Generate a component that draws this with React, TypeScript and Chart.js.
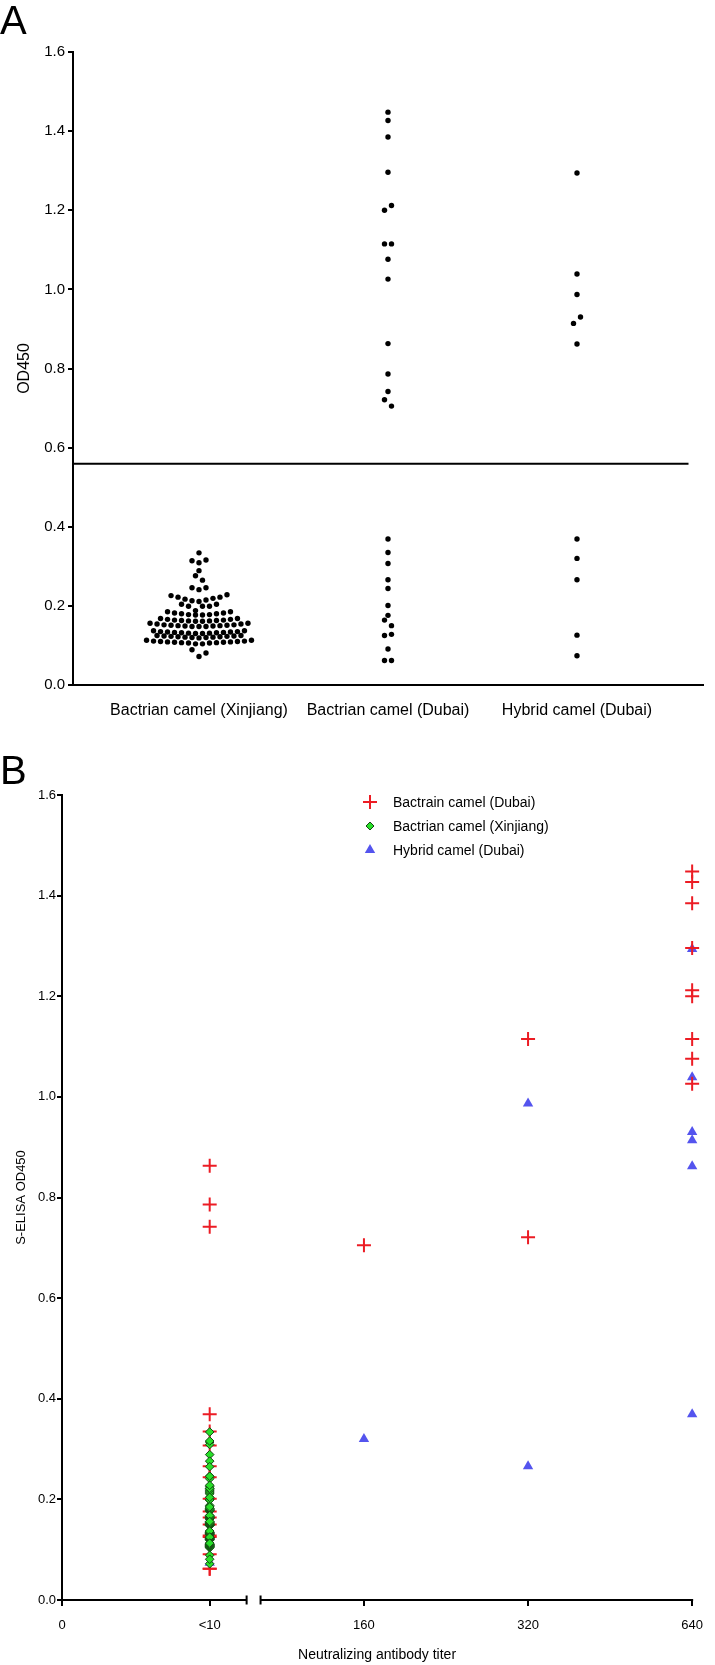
import React, { useEffect, useRef } from 'react';
import { Chart, registerables } from 'chart.js';

Chart.register(...registerables);

const FONT = '"Liberation Sans", Arial, Helvetica, sans-serif';

// ---------------- Panel A: OD450 by group (beeswarm) ----------------
const groupLabels = ['Bactrian camel (Xinjiang)', 'Bactrian camel (Dubai)', 'Hybrid camel (Dubai)'];
const CUTOFF = 0.559;
const CUTOFF_LINE_X = [-2 / 3, 2.59];

// Each inner array is one horizontal row of the swarm, listed left to right
const xinjiangRows: number[][] = [
  [0.334],
  [0.314, 0.309, 0.316],
  [0.289],
  [0.276, 0.265],
  [0.246, 0.241, 0.246],
  [0.226, 0.222, 0.217, 0.213, 0.211, 0.215, 0.219, 0.222, 0.228],
  [0.204, 0.199, 0.188, 0.199, 0.199, 0.204],
  [0.185, 0.182, 0.18, 0.178, 0.177, 0.177, 0.178, 0.18, 0.182, 0.185],
  [0.168, 0.166, 0.164, 0.163, 0.162, 0.161, 0.161, 0.162, 0.163, 0.164, 0.166, 0.168],
  [0.156, 0.154, 0.152, 0.151, 0.15, 0.149, 0.148, 0.148, 0.148, 0.149, 0.15, 0.151, 0.152, 0.154, 0.156],
  [0.137, 0.135, 0.134, 0.133, 0.132, 0.131, 0.13, 0.13, 0.131, 0.132, 0.133, 0.134, 0.135, 0.137],
  [0.125, 0.124, 0.123, 0.122, 0.121, 0.12, 0.119, 0.12, 0.121, 0.122, 0.123, 0.124, 0.125],
  [0.113, 0.111, 0.11, 0.109, 0.108, 0.107, 0.106, 0.104, 0.104, 0.106, 0.107, 0.108, 0.109, 0.11, 0.111, 0.113],
  [0.089, 0.072, 0.081],
];
const dubaiRows: number[][] = [
  [1.448], [1.427], [1.385], [1.296], [1.2, 1.212], [1.115, 1.115], [1.076], [1.026],
  [0.863], [0.786], [0.742], [0.721, 0.705],
  [0.369], [0.335], [0.307], [0.266], [0.244], [0.201], [0.176], [0.164, 0.15], [0.125, 0.128], [0.091], [0.062, 0.062],
];
const hybridRows: number[][] = [
  [1.294], [1.039], [0.987], [0.914, 0.93], [0.862],
  [0.369], [0.32], [0.266], [0.126], [0.074],
];

// ---------------- Panel B: OD450 vs neutralizing titer ----------------
const titerLabels = ['0', '<10', '160', '320', '640'];
const dubaiTiters = [
  '<10', '<10', '<10', '<10', '<10', '<10', '<10', '<10', '<10', '<10', '<10', '<10', '<10', '<10', '<10', '<10', '<10',
  '160', '320', '320',
  '640', '640', '640', '640', '640', '640', '640', '640', '640',
];
const dubaiOD = [
  0.863, 0.786, 0.742, 0.369, 0.335, 0.307, 0.266, 0.244, 0.201, 0.176, 0.164, 0.15, 0.128, 0.125, 0.091, 0.062, 0.062,
  0.705, 1.115, 0.721,
  1.448, 1.427, 1.385, 1.296, 1.212, 1.2, 1.115, 1.076, 1.026,
];
const hybridTiters = ['<10', '<10', '160', '320', '320', '640', '640', '640', '640', '640', '640'];
const hybridOD = [0.126, 0.074, 0.32, 0.987, 0.266, 1.294, 1.039, 0.93, 0.914, 0.862, 0.369];
const legendLabelsB = ['Bactrain camel (Dubai)', 'Bactrian camel (Xinjiang)', 'Hybrid camel (Dubai)'];

const RED = 'rgb(236,28,36)';
const GREEN = 'rgb(40,224,40)';
const GREEN_EDGE = 'rgb(20,70,20)';
const BLUE = 'rgb(84,84,238)';

// axis layout helpers for panel B (broken axis: "<10" then log2 titers)
const LT10_POS = 0.9;
const FIRST_TITER = 160;
const FIRST_POS = 1.84;
const titerPos = (t: string) =>
  t === '0' ? 0 : t === '<10' ? LT10_POS : FIRST_POS + Math.log2(Number(t) / FIRST_TITER);
const BREAK_B = [1.125, 1.21];

const DOT_STEP = 0.037;
function swarm(rows: number[][], center: number) {
  const pts: { x: number; y: number }[] = [];
  rows.forEach((row) =>
    row.forEach((v, i) => pts.push({ x: center + (i - (row.length - 1) / 2) * DOT_STEP, y: v }))
  );
  return pts;
}

const axisBreakPlugin = {
  id: 'axisBreak',
  beforeDatasetsDraw(chart: any) {
    const xs = chart.scales.x;
    const ctx = chart.ctx;
    const y0 = xs.top;
    const bl = xs.getPixelForValue(BREAK_B[0]);
    const br = xs.getPixelForValue(BREAK_B[1]);
    ctx.save();
    ctx.strokeStyle = '#000';
    ctx.lineWidth = 2;
    ctx.beginPath();
    ctx.moveTo(xs.left - 1, y0);
    ctx.lineTo(bl, y0);
    ctx.moveTo(br, y0);
    ctx.lineTo(xs.right + 1, y0);
    ctx.moveTo(bl, y0 - 4.5);
    ctx.lineTo(bl, y0 + 4.5);
    ctx.moveTo(br, y0 - 4.5);
    ctx.lineTo(br, y0 + 4.5);
    ctx.stroke();
    ctx.restore();
  },
};

const legendBPlugin = {
  id: 'legendB',
  afterDraw(chart: any) {
    const ctx = chart.ctx;
    const ca = chart.chartArea;
    const lx = ca.left + 308;
    const ly = ca.top + 7;
    const dy = 24;
    ctx.save();
    // cross
    let y = ly;
    ctx.strokeStyle = RED;
    ctx.lineWidth = 2;
    ctx.beginPath();
    ctx.moveTo(lx - 7, y);
    ctx.lineTo(lx + 7, y);
    ctx.moveTo(lx, y - 7);
    ctx.lineTo(lx, y + 7);
    ctx.stroke();
    // diamond
    y = ly + dy;
    ctx.beginPath();
    ctx.moveTo(lx - 4, y);
    ctx.lineTo(lx, y - 4);
    ctx.lineTo(lx + 4, y);
    ctx.lineTo(lx, y + 4);
    ctx.closePath();
    ctx.fillStyle = GREEN;
    ctx.fill();
    ctx.strokeStyle = GREEN_EDGE;
    ctx.lineWidth = 1;
    ctx.stroke();
    // triangle
    y = ly + 2 * dy;
    ctx.beginPath();
    ctx.moveTo(lx, y - 6);
    ctx.lineTo(lx + 5.2, y + 3);
    ctx.lineTo(lx - 5.2, y + 3);
    ctx.closePath();
    ctx.fillStyle = BLUE;
    ctx.fill();
    // text
    ctx.fillStyle = '#000';
    ctx.font = `14px ${FONT}`;
    ctx.textAlign = 'left';
    ctx.textBaseline = 'middle';
    legendLabelsB.forEach((t, i) => ctx.fillText(t, lx + 23, ly + i * dy + 1));
    ctx.restore();
  },
};

export default function App() {
  const refA = useRef<HTMLCanvasElement>(null);
  const refB = useRef<HTMLCanvasElement>(null);

  useEffect(() => {
    Chart.defaults.font.family = FONT;
    Chart.defaults.color = '#000';

    const dotStyle = { pointRadius: 2.7, pointHoverRadius: 2.7, backgroundColor: '#000', borderWidth: 0, clip: false };
    const chartA = new Chart(refA.current as HTMLCanvasElement, {
      type: 'scatter',
      data: {
        datasets: [
          {
            type: 'line',
            label: 'cutoff',
            data: CUTOFF_LINE_X.map((x) => ({ x, y: CUTOFF })),
            borderColor: '#000',
            borderWidth: 2,
            pointRadius: 0,
            fill: false,
          } as any,
          { label: groupLabels[0], data: swarm(xinjiangRows, 0), ...dotStyle },
          { label: groupLabels[1], data: swarm(dubaiRows, 1), ...dotStyle },
          { label: groupLabels[2], data: swarm(hybridRows, 2), ...dotStyle },
        ],
      },
      options: {
        animation: false,
        responsive: false,
        layout: { padding: { top: 52, right: 12, left: 0, bottom: 0 } },
        plugins: { legend: { display: false }, tooltip: { enabled: false } },
        scales: {
          x: {
            type: 'linear',
            min: -2 / 3,
            max: 8 / 3,
            afterBuildTicks: (s: any) => {
              s.ticks = groupLabels.map((_, i) => ({ value: i }));
            },
            afterFit: (s: any) => {
              s.height = 55;
            },
            ticks: {
              callback: (_v: any, i: number) => groupLabels[i],
              font: { size: 16, family: FONT },
              color: '#000',
              padding: 16,
              maxRotation: 0,
              autoSkip: false,
            },
            grid: { display: false, drawTicks: false },
            border: { color: '#000', width: 2 },
          },
          y: {
            min: 0,
            max: 1.6,
            afterFit: (s: any) => {
              s.width = 73;
            },
            ticks: {
              stepSize: 0.2,
              callback: (v: any) => Number(v).toFixed(1),
              font: { size: 15, family: FONT },
              color: '#000',
              padding: 3,
            },
            grid: { drawOnChartArea: false, tickLength: 5, color: '#000', lineWidth: 2 },
            border: { color: '#000', width: 2 },
            title: {
              display: true,
              text: 'OD450',
              font: { size: 16, family: FONT },
              color: '#000',
              padding: { top: 15, bottom: 0 },
            },
          },
        },
      } as any,
    });

    const chartB = new Chart(refB.current as HTMLCanvasElement, {
      type: 'scatter',
      data: {
        datasets: [
          {
            label: legendLabelsB[1],
            data: xinjiangRows.flat().map((v) => ({ x: titerPos('<10'), y: v })),
            pointStyle: 'rectRot',
            pointRadius: 4.3,
            pointHoverRadius: 4.3,
            backgroundColor: GREEN,
            borderColor: GREEN_EDGE,
            borderWidth: 1,
            order: 0,
            clip: false,
          },
          {
            label: legendLabelsB[0],
            data: dubaiOD.map((v, i) => ({ x: titerPos(dubaiTiters[i]), y: v })),
            pointStyle: 'cross',
            pointRadius: 7,
            pointHoverRadius: 7,
            borderColor: RED,
            backgroundColor: RED,
            borderWidth: 2,
            order: 1,
            clip: false,
          },
          {
            label: legendLabelsB[2],
            data: hybridOD.map((v, i) => ({ x: titerPos(hybridTiters[i]), y: v })),
            pointStyle: 'triangle',
            pointRadius: 6,
            pointHoverRadius: 6,
            backgroundColor: BLUE,
            borderColor: BLUE,
            borderWidth: 0,
            order: 2,
            clip: false,
          },
        ],
      },
      options: {
        animation: false,
        responsive: false,
        layout: { padding: { top: 55, right: 11, left: 0, bottom: 0 } },
        plugins: { legend: { display: false }, tooltip: { enabled: false } },
        scales: {
          x: {
            type: 'linear',
            min: 0,
            max: titerPos('640'),
            afterBuildTicks: (s: any) => {
              s.ticks = titerLabels.map((t) => ({ value: titerPos(t) }));
            },
            afterFit: (s: any) => {
              s.height = 65;
            },
            ticks: {
              callback: (_v: any, i: number) => titerLabels[i],
              font: { size: 13, family: FONT },
              color: '#000',
              padding: 12,
              maxRotation: 0,
              autoSkip: false,
            },
            grid: { drawOnChartArea: false, tickLength: 6, color: '#000', lineWidth: 2 },
            border: { display: false },
            title: {
              display: true,
              text: 'Neutralizing antibody titer',
              font: { size: 14, family: FONT },
              color: '#000',
              padding: { top: 0, bottom: 1 },
            },
          },
          y: {
            min: 0,
            max: 1.6,
            afterFit: (s: any) => {
              s.width = 62;
            },
            ticks: {
              stepSize: 0.2,
              callback: (v: any) => Number(v).toFixed(1),
              font: { size: 13, family: FONT },
              color: '#000',
              padding: 1,
            },
            grid: { drawOnChartArea: false, tickLength: 5, color: '#000', lineWidth: 2 },
            border: { color: '#000', width: 2 },
            title: {
              display: true,
              text: 'S-ELISA OD450',
              font: { size: 13, family: FONT },
              color: '#000',
              padding: { top: 14, bottom: 0 },
            },
          },
        },
      } as any,
      plugins: [axisBreakPlugin, legendBPlugin],
    });

    return () => {
      chartA.destroy();
      chartB.destroy();
    };
  }, []);

  const letter: React.CSSProperties = {
    position: 'absolute',
    left: 0,
    fontFamily: FONT,
    fontSize: 40,
    lineHeight: '40px',
    color: '#000',
  };

  return (
    <div style={{ position: 'absolute', left: 0, top: 0, width: 715, height: 1665, background: '#fff' }}>
      <canvas ref={refA} width={715} height={740} style={{ position: 'absolute', left: 0, top: 0, display: 'block' }} />
      <canvas ref={refB} width={715} height={925} style={{ position: 'absolute', left: 0, top: 740, display: 'block' }} />
      <div style={{ ...letter, top: 0 }}>A</div>
      <div style={{ ...letter, top: 750 }}>B</div>
    </div>
  );
}
